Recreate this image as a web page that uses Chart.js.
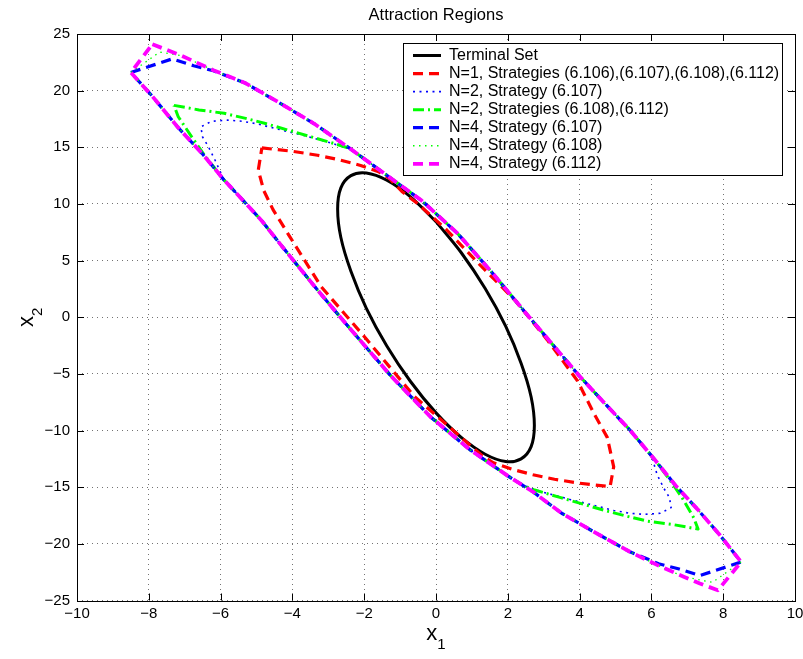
<!DOCTYPE html>
<html>
<head>
<meta charset="utf-8">
<title>Attraction Regions</title>
<script src="https://cdn.jsdelivr.net/npm/chart.js@4.4.1/dist/chart.umd.min.js"></script>
<style>
  html, body { margin: 0; padding: 0; background: #fff; }
</style>
</head>
<body>
<canvas id="attractionChart" width="803" height="659"></canvas>
<script>
// axis ranges and tick steps
const xRange = [-10, 10];
const yRange = [-25, 25];
const xStep = 2;
const yStep = 5;

const seriesLabels = [
  'Terminal Set',
  'N=1, Strategies (6.106),(6.107),(6.108),(6.112)',
  'N=2, Strategy (6.107)',
  'N=2, Strategies (6.108),(6.112)',
  'N=4, Strategy (6.107)',
  'N=4, Strategy (6.108)',
  'N=4, Strategy (6.112)'
];

// [x1, x2] points
const terminalSet = [
  [0, 8.44], [-0.71, 10.63], [-1.37, 12.09], [-1.94, 12.73], [-2.37, 12.5], [-2.65, 11.42],
  [-2.74, 9.56], [-2.65, 7.04], [-2.37, 4.06], [-1.94, 0.79], [-1.37, -2.53], [-0.71, -5.67],
  [0, -8.44], [0.71, -10.63], [1.37, -12.09], [1.94, -12.73], [2.37, -12.5], [2.65, -11.42],
  [2.74, -9.56], [2.65, -7.04], [2.37, -4.06], [1.94, -0.79], [1.37, 2.53], [0.71, 5.67], [0, 8.44]
];

const n1All = [
  [-4.85, 14.95], [-4.0, 14.65], [-3.3, 14.3], [-2.7, 13.9], [-2.1, 13.4], [-1.6, 12.85],
  [-1.3, 12.25], [-0.95, 11.1], [-0.5, 10.0], [0.3, 7.7], [1.2, 4.7], [2.2, 1.5], [3.1, -2.0],
  [3.94, -5.6], [4.4, -8.5], [4.77, -10.6], [4.95, -13.2], [4.85, -14.95], [4.0, -14.65],
  [3.3, -14.3], [2.7, -13.9], [2.1, -13.4], [1.6, -12.85], [1.3, -12.25], [0.88, -11.1],
  [0.45, -9.9], [-0.6, -7.0], [-2.0, -1.7], [-3.2, 2.7], [-4.07, 7.1], [-4.54, 9.5],
  [-4.8, 11.2], [-4.95, 13.0], [-4.85, 14.95]
];

const n2Strategy107 = [
  [-2.4, 14.9], [-1.4, 12.6], [-0.4, 10.3], [0.6, 7.4], [1.6, 3.8], [2.6, 0.0], [3.3, -2.6],
  [4.0, -5.2], [4.7, -7.6], [5.4, -9.95], [6.0, -12.2], [6.16, -13.9], [6.34, -15.06],
  [6.5, -15.9], [6.55, -16.8], [6.25, -17.3], [5.8, -17.4], [5.4, -17.3], [4.95, -17.05],
  [4.4, -16.6], [3.75, -16.1], [3.0, -15.45], [2.55, -15.0], [2.0, -14.0], [0.95, -11.7],
  [-0.15, -8.8], [-1.25, -5.2], [-2.45, -0.8], [-3.3, 2.4], [-4.3, 6.3], [-4.85, 8.5],
  [-5.4, 10.4], [-5.9, 12.1], [-6.16, 13.9], [-6.34, 15.06], [-6.5, 15.9], [-6.55, 16.8],
  [-6.25, 17.3], [-5.8, 17.4], [-5.4, 17.3], [-4.95, 17.05], [-4.4, 16.6], [-3.75, 16.1],
  [-3.0, 15.45], [-2.55, 15.0], [-2.4, 14.9]
];

const n2Strategies108112 = [
  [-7.3, 18.7], [-6.6, 18.3], [-5.9, 18.0], [-5.3, 17.55], [-4.75, 17.1], [-4.1, 16.5],
  [-3.45, 15.9], [-2.75, 15.25], [-2.4, 14.9], [-1.4, 12.6], [-0.4, 10.3], [0.6, 7.4],
  [1.6, 3.8], [2.6, 0.0], [3.3, -2.6], [4.0, -5.2], [4.7, -7.6], [5.4, -9.95], [6.1, -12.6],
  [6.5, -14.3], [6.85, -15.9], [7.18, -17.7], [7.3, -18.7], [6.6, -18.3], [5.9, -18.0],
  [5.3, -17.55], [4.75, -17.1], [4.1, -16.5], [3.45, -15.9], [2.75, -15.25], [2.4, -14.8],
  [2.0, -14.0], [0.95, -11.7], [-0.15, -8.8], [-1.25, -5.2], [-2.45, -0.8], [-3.3, 2.4],
  [-4.3, 6.3], [-4.85, 8.5], [-5.4, 10.4], [-5.9, 12.1], [-6.45, 14.3], [-6.8, 15.9],
  [-7.18, 17.7], [-7.3, 18.7]
];

const n4Strategy107 = [
  [-8.5, 21.6], [-7.35, 22.8], [-6.75, 22.2], [-6.2, 21.75], [-5.3, 20.65], [-4.4, 19.0],
  [-3.4, 17.1], [-2.4, 14.9], [-1.4, 12.6], [-0.4, 10.3], [0.6, 7.4], [1.6, 3.8], [2.6, 0.0],
  [3.3, -2.6], [4.0, -5.2], [4.7, -7.6], [5.4, -9.95], [6.1, -12.6], [6.7, -14.95],
  [7.3, -17.0], [7.9, -19.2], [8.5, -21.6], [7.35, -22.8], [6.75, -22.2], [6.2, -21.75],
  [5.4, -20.7], [4.4, -18.95], [3.5, -17.3], [2.7, -15.4], [2.0, -14.0], [0.95, -11.7],
  [-0.15, -8.8], [-1.25, -5.2], [-2.45, -0.8], [-3.3, 2.4], [-4.3, 6.3], [-4.85, 8.5],
  [-5.4, 10.4], [-5.9, 12.1], [-6.5, 14.4], [-7.2, 16.8], [-7.9, 19.5], [-8.5, 21.6]
];

const n4Strategy108 = [
  [-8.5, 21.6], [-7.7, 23.4], [-7.1, 23.1], [-6.2, 21.8], [-5.3, 20.65], [-4.4, 19.0],
  [-3.4, 17.1], [-2.4, 14.9], [-1.4, 12.6], [-0.4, 10.3], [0.6, 7.4], [1.6, 3.8], [2.6, 0.0],
  [3.3, -2.6], [4.0, -5.2], [4.7, -7.6], [5.4, -9.95], [6.1, -12.6], [6.7, -14.95],
  [7.3, -17.0], [7.9, -19.2], [8.5, -21.6], [7.7, -23.4], [6.9, -22.9], [6.25, -22.0],
  [5.4, -20.7], [4.4, -18.95], [3.5, -17.3], [2.7, -15.4], [2.0, -14.0], [0.95, -11.7],
  [-0.15, -8.8], [-1.25, -5.2], [-2.45, -0.8], [-3.3, 2.4], [-4.3, 6.3], [-4.85, 8.5],
  [-5.4, 10.4], [-5.9, 12.1], [-6.5, 14.4], [-7.2, 16.8], [-7.9, 19.5], [-8.5, 21.6]
];

const n4Strategy112 = [
  [-7.9, 24.1], [-7.1, 23.1], [-6.2, 21.8], [-5.3, 20.65], [-4.4, 19.0], [-3.4, 17.1],
  [-2.4, 14.9], [-1.4, 12.6], [-0.4, 10.3], [0.6, 7.4], [1.6, 3.8], [2.6, 0.0], [3.3, -2.6],
  [4.0, -5.2], [4.7, -7.6], [5.4, -9.95], [6.1, -12.6], [6.7, -14.95], [7.3, -17.0],
  [7.9, -19.2], [8.5, -21.6], [7.85, -24.1], [7.35, -23.5], [6.9, -22.9], [6.25, -22.0],
  [5.4, -20.7], [4.4, -18.95], [3.5, -17.3], [2.7, -15.4], [2.0, -14.0], [0.95, -11.7],
  [-0.15, -8.8], [-1.25, -5.2], [-2.45, -0.8], [-3.3, 2.4], [-4.3, 6.3], [-4.85, 8.5],
  [-5.4, 10.4], [-5.9, 12.1], [-6.5, 14.4], [-7.2, 16.8], [-7.9, 19.5], [-8.5, 21.6], [-7.9, 24.1]
];

const seriesPoints = [terminalSet, n1All, n2Strategy107, n2Strategies108112, n4Strategy107, n4Strategy108, n4Strategy112];

// line looks, MATLAB style
const seriesStyles = [
  { color: '#000000', width: 3, dash: [], tension: 0.35 },
  { color: '#ff0000', width: 3.2, dash: [10, 6], tension: 0 },
  { color: '#0000ff', width: 1.6, dash: [2, 4.5], tension: 0 },
  { color: '#00ff00', width: 3, dash: [11, 4, 2, 4], tension: 0 },
  { color: '#0000ff', width: 3.2, dash: [10, 6], tension: 0 },
  { color: '#00ff00', width: 1.3, dash: [1.5, 4.5], tension: 0 },
  { color: '#ff00ff', width: 3.8, dash: [10, 6], tension: 0 }
];

const FONT = '"Liberation Sans", Arial, Helvetica, sans-serif';

const datasets = seriesPoints.map((pts, i) => ({
  label: seriesLabels[i],
  data: pts.map(p => ({ x: p[0], y: p[1] })),
  showLine: true,
  fill: false,
  pointRadius: 0,
  borderColor: seriesStyles[i].color,
  borderWidth: seriesStyles[i].width,
  borderDash: seriesStyles[i].dash,
  borderCapStyle: 'butt',
  borderJoinStyle: 'round',
  tension: seriesStyles[i].tension,
  order: seriesPoints.length - i // last series on top, like MATLAB
}));

const minusSign = v => String(v).replace('-', '\u2212');

// frame, inward ticks, legend box and subscripted axis labels
const matlabLook = {
  id: 'matlabLook',
  afterDraw(chart) {
    const { ctx, chartArea: a } = chart;
    const xs = chart.scales.x, ys = chart.scales.y;
    const tickLen = 7;
    ctx.save();
    ctx.setLineDash([]);
    ctx.strokeStyle = '#000';
    ctx.lineWidth = 1;
    ctx.beginPath();
    xs.ticks.forEach(t => {
      const px = Math.round(xs.getPixelForValue(t.value)) + 0.5;
      ctx.moveTo(px, a.bottom); ctx.lineTo(px, a.bottom - tickLen);
      ctx.moveTo(px, a.top); ctx.lineTo(px, a.top + tickLen);
    });
    ys.ticks.forEach(t => {
      const py = Math.round(ys.getPixelForValue(t.value)) + 0.5;
      ctx.moveTo(a.left, py); ctx.lineTo(a.left + tickLen, py);
      ctx.moveTo(a.right, py); ctx.lineTo(a.right - tickLen, py);
    });
    ctx.stroke();
    ctx.strokeRect(Math.round(a.left) + 0.5, Math.round(a.top) + 0.5,
      Math.round(a.right - a.left), Math.round(a.bottom - a.top));

    // legend
    const lx = 403.5, ly = 43.5, lw = 379, lh = 132;
    ctx.fillStyle = '#fff';
    ctx.fillRect(lx, ly, lw, lh);
    ctx.strokeRect(lx, ly, lw, lh);
    ctx.font = '16px ' + FONT;
    ctx.textBaseline = 'middle';
    ctx.textAlign = 'left';
    seriesLabels.forEach((label, i) => {
      const yy = 55.5 + i * 18.05;
      const s = seriesStyles[i];
      ctx.beginPath();
      ctx.setLineDash(s.dash);
      ctx.strokeStyle = s.color;
      ctx.lineWidth = s.width;
      ctx.lineCap = 'butt';
      ctx.moveTo(413, yy);
      ctx.lineTo(441, yy);
      ctx.stroke();
      ctx.setLineDash([]);
      ctx.fillStyle = '#000';
      ctx.fillText(label, 449, yy);
    });

    // axis labels with subscripts
    ctx.fillStyle = '#000';
    ctx.textBaseline = 'alphabetic';
    const bigFont = '22px ' + FONT, subFont = '15px ' + FONT;
    const drawSub = (base, sub, cx, baseY) => {
      ctx.font = bigFont;
      const w1 = ctx.measureText(base).width;
      ctx.font = subFont;
      const w2 = ctx.measureText(sub).width;
      const x0 = cx - (w1 + w2) / 2;
      ctx.font = bigFont;
      ctx.fillText(base, x0, baseY);
      ctx.font = subFont;
      ctx.fillText(sub, x0 + w1, baseY + 9);
    };
    drawSub('x', '1', (a.left + a.right) / 2, 640);
    ctx.save();
    ctx.translate(33, (a.top + a.bottom) / 2);
    ctx.rotate(-Math.PI / 2);
    drawSub('x', '2', 0, 0);
    ctx.restore();
    ctx.restore();
  }
};

new Chart(document.getElementById('attractionChart').getContext('2d'), {
  type: 'scatter',
  data: { datasets },
  options: {
    responsive: false,
    animation: false,
    devicePixelRatio: 1,
    layout: { padding: { left: 0, right: 8, top: 0, bottom: 0 } },
    plugins: {
      legend: { display: false },
      tooltip: { enabled: false },
      title: {
        display: true,
        fullSize: false,
        text: 'Attraction Regions',
        color: '#000',
        font: { family: FONT, size: 16.5, weight: 'normal' },
        padding: { top: 6, bottom: 8.2 }
      }
    },
    scales: {
      x: {
        type: 'linear',
        min: xRange[0],
        max: xRange[1],
        ticks: { stepSize: xStep, color: '#000', padding: 4, font: { family: FONT, size: 15 }, callback: minusSign },
        grid: { color: 'rgba(0,0,0,0.55)', lineWidth: 1, drawTicks: false },
        border: { display: false, dash: [1, 4] },
        afterFit(scale) { scale.height = 58.5; scale.paddingLeft = 0; scale.paddingRight = 0; }
      },
      y: {
        type: 'linear',
        min: yRange[0],
        max: yRange[1],
        ticks: { stepSize: yStep, color: '#000', padding: 7, font: { family: FONT, size: 15 }, callback: minusSign },
        grid: { color: 'rgba(0,0,0,0.55)', lineWidth: 1, drawTicks: false },
        border: { display: false, dash: [1, 4] },
        afterFit(scale) { scale.width = 77; scale.paddingTop = 0; scale.paddingBottom = 0; }
      }
    }
  },
  plugins: [matlabLook]
});
</script>
</body>
</html>
